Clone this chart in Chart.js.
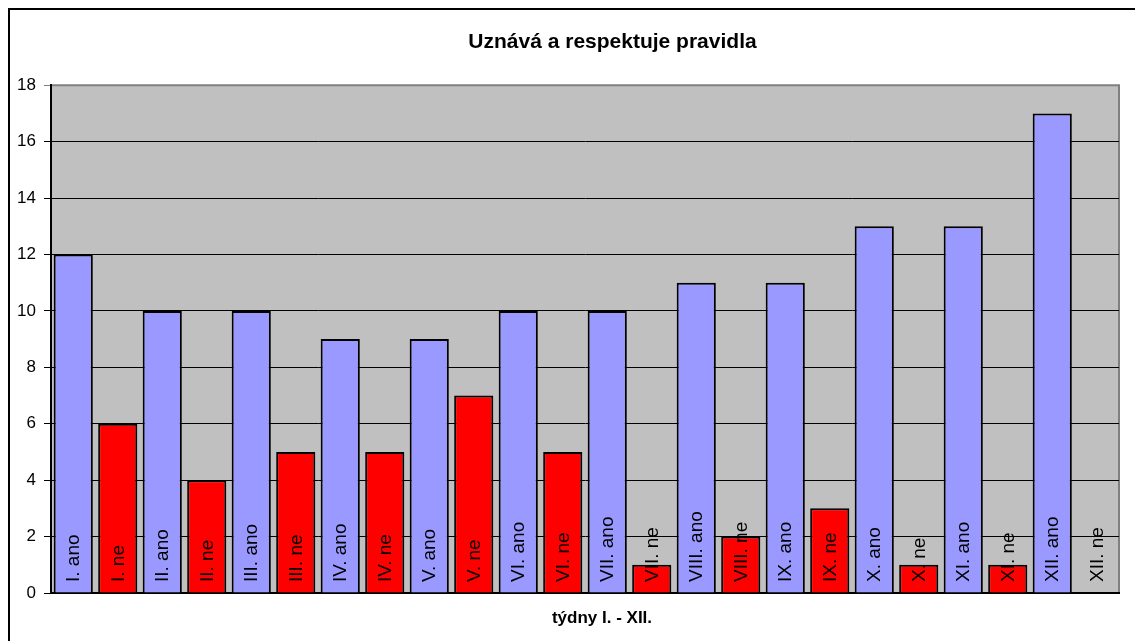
<!DOCTYPE html>
<html>
<head>
<meta charset="utf-8">
<script src="https://cdn.jsdelivr.net/npm/chart.js@4"></script>
<style>
  html, body { margin: 0; padding: 0; overflow: hidden; background: #fff; }
  canvas { display: block; }
</style>
</head>
<body>
<canvas id="myChart" width="1135" height="641"></canvas>
<script>
// weeks and answers per week
const weeks = ["I", "II", "III", "IV", "V", "VI", "VII", "VIII", "IX", "X", "XI", "XII"];
const anoValues = [12, 10, 10, 9, 9, 10, 10, 11, 11, 13, 13, 17];
const neValues = [6, 4, 5, 5, 7, 5, 1, 2, 3, 1, 1, 0];
const yTicks = [0, 2, 4, 6, 8, 10, 12, 14, 16, 18];

const ANO_COLOR = "#9999FF";
const NE_COLOR = "#FF0000";
const FONT = "Arial, 'Liberation Sans', sans-serif";

// interleave: I. ano, I. ne, II. ano, ...
const categories = [];
const values = [];
const colors = [];
weeks.forEach((w, i) => {
	categories.push(w + ". ano");
	values.push(anoValues[i]);
	colors.push(ANO_COLOR);
	categories.push(w + ". ne");
	values.push(neValues[i]);
	colors.push(NE_COLOR);
});

// frame, gray plot background + right/top edge
const plotBackground = {
	id: "plotBackground",
	afterLayout(chart) {
		// the original chart is wider than the visible part, title sits right of centre
		chart.titleBlock.left += 49;
		chart.titleBlock.right += 49;
	},
	beforeDraw(chart) {
		const { ctx, chartArea: a, width, height } = chart;
		ctx.save();
		ctx.fillStyle = "#fff";
		ctx.fillRect(0, 0, width, height);
		// outer chart frame, only top and left are visible
		ctx.strokeStyle = "#000";
		ctx.lineWidth = 2;
		ctx.beginPath();
		ctx.moveTo(9, height);
		ctx.lineTo(9, 9);
		ctx.lineTo(width, 9);
		ctx.stroke();
		ctx.fillStyle = "#C0C0C0";
		ctx.fillRect(a.left, a.top, a.right - a.left, a.bottom - a.top);
		ctx.strokeStyle = "#808080";
		ctx.beginPath();
		ctx.moveTo(a.left, a.top);
		ctx.lineTo(a.right, a.top);
		ctx.lineTo(a.right, a.bottom);
		ctx.stroke();
		ctx.restore();
	},
};

// category names written vertically inside the bars, plus the axis title
const barLabels = {
	id: "barLabels",
	afterDatasetsDraw(chart) {
		const { ctx, chartArea: a } = chart;
		const meta = chart.getDatasetMeta(0);
		ctx.save();
		ctx.font = "19px " + FONT;
		ctx.fillStyle = "#000";
		ctx.textAlign = "left";
		ctx.textBaseline = "middle";
		meta.data.forEach((bar, i) => {
			ctx.save();
			ctx.translate(bar.x, a.bottom - 11);
			ctx.rotate(-Math.PI / 2);
			ctx.fillText(categories[i], 0, 1);
			ctx.restore();
		});
		ctx.font = "bold 17px " + FONT;
		ctx.textAlign = "center";
		ctx.fillText("týdny I. - XII.", (a.left + a.right) / 2 + 17, a.bottom + 25);
		ctx.restore();
	},
};

new Chart(document.getElementById("myChart").getContext("2d"), {
	type: "bar",
	data: {
		labels: categories,
		datasets: [
			{
				data: values,
				backgroundColor: colors,
				borderColor: "#000",
				borderWidth: 2,
				barPercentage: 0.88,
				categoryPercentage: 1,
			},
		],
	},
	options: {
		responsive: false,
		animation: false,
		layout: { padding: { left: 8, right: 16, top: 0, bottom: 0 } },
		plugins: {
			legend: { display: false },
			tooltip: { enabled: false },
			title: {
				display: true,
				text: "Uznává a respektuje pravidla",
				color: "#000",
				font: { family: FONT, size: 21, weight: "bold" },
				padding: { top: 30, bottom: 30 },
			},
		},
		scales: {
			x: {
				grid: { display: false },
				border: { color: "#000", width: 2 },
				ticks: { display: false },
				afterFit(scale) {
					scale.height = 48;
				},
			},
			y: {
				min: 0,
				max: 18,
				afterBuildTicks(scale) {
					scale.ticks = yTicks.map((v) => ({ value: v }));
				},
				grid: {
					color: (c) => (c.tick && c.tick.value === 18 ? "#808080" : "#000"),
					lineWidth: 1,
					tickLength: 7,
				},
				border: { color: "#000", width: 2 },
				ticks: {
					color: "#000",
					padding: 8,
					font: { family: FONT, size: 17 },
				},
				afterFit(scale) {
					scale.width = 43;
				},
			},
		},
	},
	plugins: [plotBackground, barLabels],
});
</script>
</body>
</html>
